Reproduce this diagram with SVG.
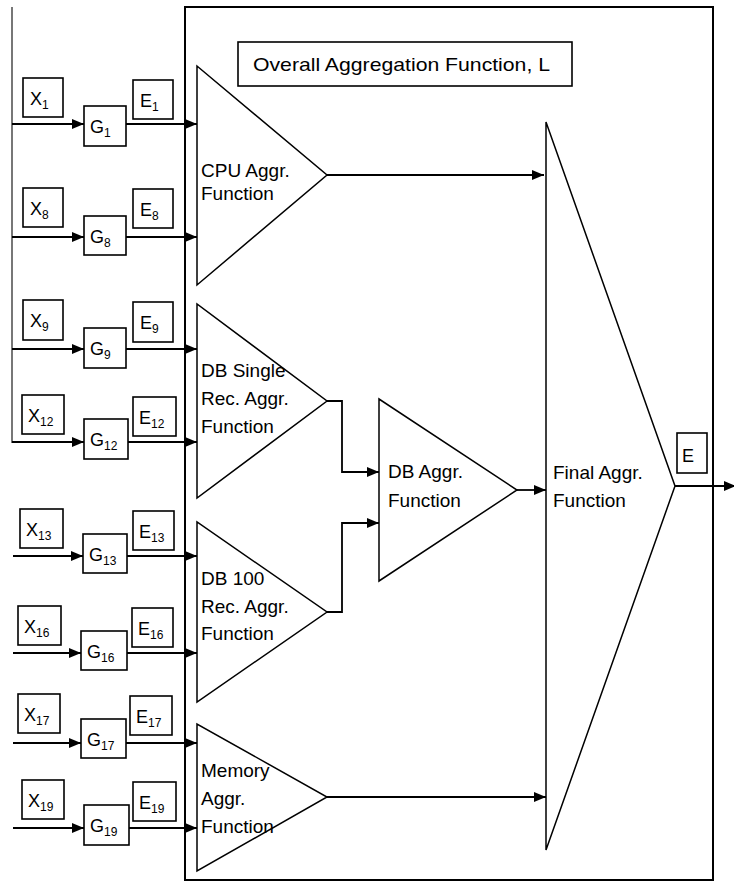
<svg xmlns="http://www.w3.org/2000/svg" width="734" height="882" viewBox="0 0 734 882">
<style>
.bx{fill:#fff;stroke:#000;stroke-width:1.6}
.tri{fill:#fff;stroke:#000;stroke-width:1.5}
.ln{fill:none;stroke:#000;stroke-width:1.8}
.t{font-family:"Liberation Sans",Arial,sans-serif;font-size:18px;fill:#000}
.s{font-size:12px}
.lab{font-family:"Liberation Sans",Arial,sans-serif;font-size:19px;fill:#000}
</style>
<defs>
<marker id="ah" markerUnits="userSpaceOnUse" markerWidth="12" markerHeight="10" refX="12" refY="5" orient="auto">
<path d="M0,0 L12,5 L0,10 z" fill="#000"/>
</marker>
</defs>
<rect width="734" height="882" fill="#fff"/>
<g id="container">
<rect x="185" y="7" width="528" height="873" fill="none" stroke="#000" stroke-width="2"/>
</g>
<line id="bus" x1="12" y1="7" x2="12" y2="443" stroke="#777" stroke-width="2"/>
<g id="title">
<rect class="bx" x="238" y="42" width="334" height="44"/>
<text class="lab" x="253" y="71" textLength="297" lengthAdjust="spacingAndGlyphs">Overall Aggregation Function, L</text>
</g>
<g id="cpu"><polygon class="tri" points="197,66 197,285 327,175"/>
<text class="lab" x="201" y="177">CPU Aggr.</text><text class="lab" x="201" y="200">Function</text></g>
<g id="dbsingle"><polygon class="tri" points="197,304 197,498 327,401"/>
<text class="lab" x="201" y="377">DB Single</text><text class="lab" x="201" y="405">Rec. Aggr.</text><text class="lab" x="201" y="433">Function</text></g>
<g id="db100"><polygon class="tri" points="197,522 197,702 327,612"/>
<text class="lab" x="201" y="585">DB 100</text><text class="lab" x="201" y="613">Rec. Aggr.</text><text class="lab" x="201" y="640">Function</text></g>
<g id="memory"><polygon class="tri" points="197,724 197,871 327,797"/>
<text class="lab" x="201" y="777">Memory</text><text class="lab" x="201" y="805">Aggr.</text><text class="lab" x="201" y="833">Function</text></g>
<g id="dbagg"><polygon class="tri" points="379,399 379,581 517,490"/>
<text class="lab" x="388" y="478">DB Aggr.</text><text class="lab" x="388" y="507">Function</text></g>
<g id="final"><polygon class="tri" points="546,122 546,850 675,486"/>
<text class="lab" x="553" y="479">Final Aggr.</text><text class="lab" x="553" y="507">Function</text></g>
<g id="eout"><rect class="bx" x="677" y="433" width="30" height="40"/><text class="t" x="682" y="462">E</text></g>

<g id="x1"><rect class="bx" x="23" y="78" width="40" height="39"/><text class="t" x="30" y="105">X<tspan class="s" dy="4">1</tspan></text></g>
<g id="g1"><rect class="bx" x="84" y="106" width="42" height="40"/><text class="t" x="90" y="133">G<tspan class="s" dy="4">1</tspan></text></g>
<g id="e1"><rect class="bx" x="133" y="80" width="40" height="39"/><text class="t" x="140" y="107">E<tspan class="s" dy="4">1</tspan></text></g>

<g id="x8"><rect class="bx" x="23" y="188" width="40" height="39"/><text class="t" x="30" y="214.5">X<tspan class="s" dy="4">8</tspan></text></g>
<g id="g8"><rect class="bx" x="84" y="216" width="42" height="39"/><text class="t" x="90" y="242.5">G<tspan class="s" dy="4">8</tspan></text></g>
<g id="e8"><rect class="bx" x="133" y="189" width="40" height="39"/><text class="t" x="140" y="215.5">E<tspan class="s" dy="4">8</tspan></text></g>

<g id="x9"><rect class="bx" x="23" y="300" width="40" height="40"/><text class="t" x="30" y="327">X<tspan class="s" dy="4">9</tspan></text></g>
<g id="g9"><rect class="bx" x="84" y="328" width="42" height="40"/><text class="t" x="90" y="355">G<tspan class="s" dy="4">9</tspan></text></g>
<g id="e9"><rect class="bx" x="133" y="302" width="40" height="40"/><text class="t" x="140" y="329">E<tspan class="s" dy="4">9</tspan></text></g>

<g id="x12"><rect class="bx" x="22" y="395" width="42" height="39"/><text class="t" x="28" y="421.5">X<tspan class="s" dy="4">12</tspan></text></g>
<g id="g12"><rect class="bx" x="84" y="419" width="44" height="40"/><text class="t" x="90" y="446">G<tspan class="s" dy="4">12</tspan></text></g>
<g id="e12"><rect class="bx" x="133" y="397" width="43" height="39"/><text class="t" x="139" y="423.5">E<tspan class="s" dy="4">12</tspan></text></g>

<g id="x13"><rect class="bx" x="20" y="509" width="43" height="39"/><text class="t" x="26" y="535.5">X<tspan class="s" dy="4">13</tspan></text></g>
<g id="g13"><rect class="bx" x="83" y="534" width="44" height="39"/><text class="t" x="89" y="560.5">G<tspan class="s" dy="4">13</tspan></text></g>
<g id="e13"><rect class="bx" x="133" y="511" width="41" height="39"/><text class="t" x="139" y="537.5">E<tspan class="s" dy="4">13</tspan></text></g>

<g id="x16"><rect class="bx" x="18" y="606" width="43" height="39"/><text class="t" x="24" y="632.5">X<tspan class="s" dy="4">16</tspan></text></g>
<g id="g16"><rect class="bx" x="81" y="631" width="46" height="39"/><text class="t" x="87" y="657.5">G<tspan class="s" dy="4">16</tspan></text></g>
<g id="e16"><rect class="bx" x="132" y="608" width="41" height="39"/><text class="t" x="138" y="634.5">E<tspan class="s" dy="4">16</tspan></text></g>

<g id="x17"><rect class="bx" x="18" y="694" width="42" height="39"/><text class="t" x="24" y="720.5">X<tspan class="s" dy="4">17</tspan></text></g>
<g id="g17"><rect class="bx" x="81" y="719" width="45" height="39"/><text class="t" x="87" y="745.5">G<tspan class="s" dy="4">17</tspan></text></g>
<g id="e17"><rect class="bx" x="130" y="696" width="42" height="39"/><text class="t" x="136" y="722.5">E<tspan class="s" dy="4">17</tspan></text></g>

<g id="x19"><rect class="bx" x="22" y="780" width="42" height="39"/><text class="t" x="28" y="806.5">X<tspan class="s" dy="4">19</tspan></text></g>
<g id="g19"><rect class="bx" x="84" y="805" width="45" height="40"/><text class="t" x="90" y="832">G<tspan class="s" dy="4">19</tspan></text></g>
<g id="e19"><rect class="bx" x="133" y="782" width="43" height="39"/><text class="t" x="139" y="808.5">E<tspan class="s" dy="4">19</tspan></text></g>

<g id="connectors" class="ln" marker-end="url(#ah)">
<path class="ln" marker-end="url(#ah)" d="M12,124 H84"/>
<path class="ln" marker-end="url(#ah)" d="M126,124 H197"/>
<path class="ln" marker-end="url(#ah)" d="M12,237 H84"/>
<path class="ln" marker-end="url(#ah)" d="M126,237 H197"/>
<path class="ln" marker-end="url(#ah)" d="M12,349 H84"/>
<path class="ln" marker-end="url(#ah)" d="M126,349 H197"/>
<path class="ln" marker-end="url(#ah)" d="M12,442 H84"/>
<path class="ln" marker-end="url(#ah)" d="M128,442 H197"/>
<path class="ln" marker-end="url(#ah)" d="M13,556 H83"/>
<path class="ln" marker-end="url(#ah)" d="M127,556 H197"/>
<path class="ln" marker-end="url(#ah)" d="M13,653 H81"/>
<path class="ln" marker-end="url(#ah)" d="M127,653 H197"/>
<path class="ln" marker-end="url(#ah)" d="M13,743 H81"/>
<path class="ln" marker-end="url(#ah)" d="M126,743 H197"/>
<path class="ln" marker-end="url(#ah)" d="M13,828 H84"/>
<path class="ln" marker-end="url(#ah)" d="M129,828 H197"/>
<path class="ln" marker-end="url(#ah)" d="M327,175 H544"/>
<path class="ln" marker-end="url(#ah)" d="M327,401 H342 V472 H379"/>
<path class="ln" marker-end="url(#ah)" d="M327,612 H342 V523 H379"/>
<path class="ln" marker-end="url(#ah)" d="M517,490 H546"/>
<path class="ln" marker-end="url(#ah)" d="M327,797 H546"/>
<path class="ln" marker-end="url(#ah)" d="M675,486 H736"/>
</g>
</svg>
